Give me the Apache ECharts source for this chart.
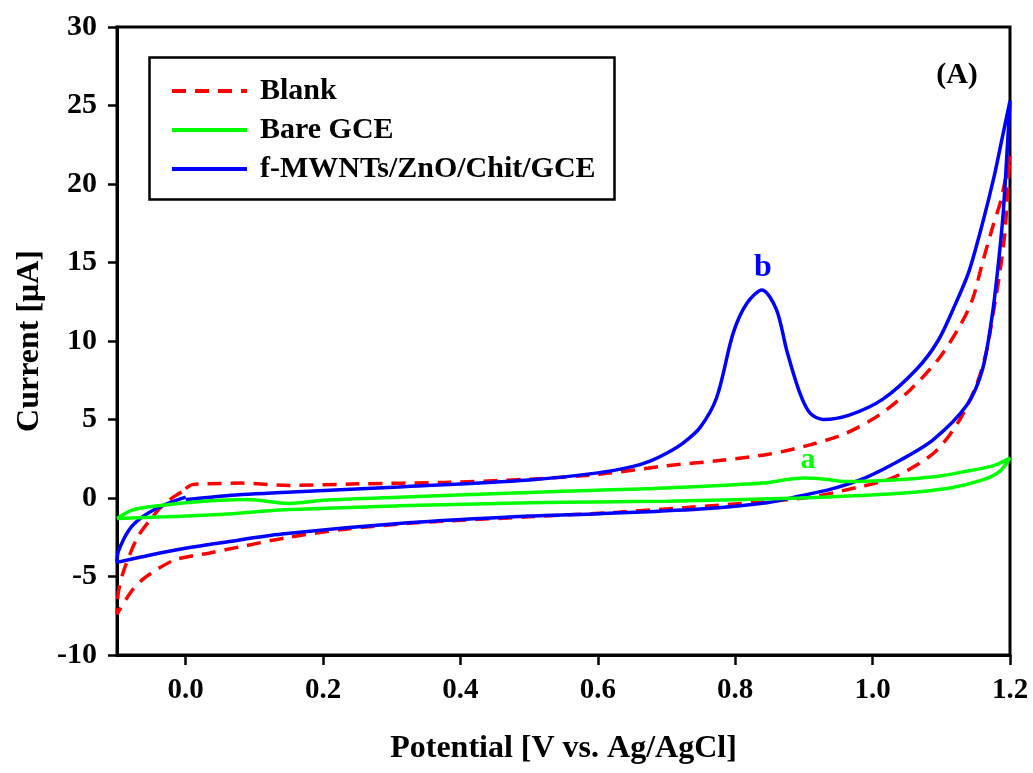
<!DOCTYPE html>
<html>
<head>
<meta charset="utf-8">
<script src="https://cdn.jsdelivr.net/npm/echarts@6/dist/echarts.min.js"></script>
<style>
html,body{margin:0;padding:0;background:#fff;}
#chart{width:1033px;height:773px;}
</style>
</head>
<body>
<div id="chart"></div>
<script>
// ---- data (potential V, current µA), traced along the CV loop ----
const blankCV = [
  [0.0,0.6],[0.01,0.85],[0.03,0.9],[0.08,0.95],[0.15,0.8],[0.25,0.9],[0.38,1.0],[0.5,1.2],
  [0.6,1.5],[0.7,2.05],[0.78,2.4],[0.85,2.8],[0.91,3.4],[0.96,4.1],[1.01,5.3],[1.055,6.9],
  [1.095,8.8],[1.125,10.8],[1.145,12.6],[1.16,15.0],[1.175,17.3],[1.187,19.0],[1.2,21.8],
  [1.197,20.0],[1.193,17.1],[1.185,14.3],[1.176,11.9],[1.166,9.4],[1.152,7.3],[1.127,5.0],
  [1.09,2.9],[1.03,1.3],[0.98,0.7],[0.91,0.06],[0.84,-0.25],[0.73,-0.6],[0.63,-0.9],[0.5,-1.2],
  [0.33,-1.6],[0.23,-2.0],[0.15,-2.5],[0.08,-3.1],[0.035,-3.5],[-0.013,-3.9],[-0.04,-4.5],
  [-0.063,-5.2],[-0.08,-6.0],[-0.1,-7.4],
  [-0.098,-6.0],[-0.09,-4.6],[-0.07,-2.5],[-0.05,-1.3],[-0.033,-0.45],[-0.013,0.2],[0.0,0.5]
];
const bareCV = [
  [-0.1,-1.3],[-0.08,-0.8],[-0.06,-0.6],[-0.03,-0.45],[0.0,-0.3],[0.05,-0.15],[0.09,-0.1],
  [0.15,-0.35],[0.2,-0.15],[0.31,0.05],[0.5,0.35],[0.6,0.5],[0.68,0.6],[0.8,0.85],[0.84,0.95],
  [0.9,1.27],[0.93,1.2],[0.96,1.05],[1.03,1.15],[1.09,1.35],[1.13,1.65],[1.175,2.05],[1.2,2.55],
  [1.185,1.7],[1.16,1.15],[1.113,0.64],[1.04,0.3],[0.894,0.0],[0.7,-0.2],[0.6,-0.25],[0.5,-0.3],
  [0.31,-0.5],[0.137,-0.76],[0.068,-1.0],[-0.028,-1.2],[-0.1,-1.3]
];
const modifiedCV = [
  [0.0,-0.1],[0.06,0.15],[0.14,0.35],[0.31,0.7],[0.5,1.15],[0.6,1.6],[0.65,2.0],[0.676,2.35],
  [0.70,2.85],[0.724,3.5],[0.749,4.5],[0.773,6.4],[0.797,10.5],[0.817,12.4],[0.839,13.25],
  [0.86,12.0],[0.875,9.4],[0.894,6.7],[0.909,5.4],[0.928,5.0],[0.967,5.3],[1.015,6.3],
  [1.064,8.2],[1.095,10.0],[1.12,12.3],[1.14,14.4],[1.16,17.5],[1.177,20.5],[1.188,22.8],[1.2,25.3],
  [1.197,23.0],[1.19,18.1],[1.182,14.5],[1.174,11.6],[1.16,8.2],[1.137,5.9],[1.088,3.7],
  [1.04,2.4],[0.99,1.3],[0.942,0.6],[0.894,0.13],[0.846,-0.3],[0.749,-0.7],[0.603,-1.0],
  [0.5,-1.15],[0.319,-1.6],[0.14,-2.3],[0.06,-2.8],[-0.013,-3.3],[-0.1,-4.1],
  [-0.098,-3.4],[-0.082,-2.0],[-0.063,-1.2],[-0.038,-0.57],[-0.013,-0.13],[0.0,0.06]
];
const seriesNames = ['Blank','Bare GCE','f-MWNTs/ZnO/Chit/GCE'];
const xTicks = [0.0,0.2,0.4,0.6,0.8,1.0,1.2];
const yTicks = [-10,-5,0,5,10,15,20,25,30];

const FONT = '"Liberation Serif","Times New Roman",serif';
const chart = echarts.init(document.getElementById('chart'));
chart.setOption({
  animation:false,
  backgroundColor:'#fff',
  grid:{left:117,right:23,top:27,bottom:118,show:true,borderColor:'#000',borderWidth:3,backgroundColor:'transparent'},
  xAxis:{
    type:'value',min:-0.1,max:1.2,
    name:'Potential [V vs. Ag/AgCl]',nameLocation:'middle',nameGap:78,
    nameTextStyle:{fontFamily:FONT,fontWeight:'bold',fontSize:32,color:'#000'},
    axisLine:{onZero:false,lineStyle:{color:'#000',width:3}},
    axisTick:{show:true,length:10,lineStyle:{color:'#000',width:2.5},customValues:xTicks},
    axisLabel:{customValues:xTicks,margin:21,fontFamily:FONT,fontWeight:'bold',fontSize:29,color:'#000',
      formatter:v=>v.toFixed(1)},
    splitLine:{show:false}
  },
  yAxis:{
    type:'value',min:yTicks[0],max:yTicks[yTicks.length-1],interval:5,
    name:'Current [μA]',nameLocation:'middle',nameGap:71,
    nameTextStyle:{fontFamily:FONT,fontWeight:'bold',fontSize:32,color:'#000'},
    axisLine:{onZero:false,lineStyle:{color:'#000',width:3}},
    axisTick:{show:true,length:9,lineStyle:{color:'#000',width:2.5}},
    axisLabel:{margin:20,fontFamily:FONT,fontWeight:'bold',fontSize:30,color:'#000'},
    splitLine:{show:false}
  },
  legend:{
    orient:'vertical',left:165,top:71,itemWidth:75,itemHeight:14,itemGap:9,
    data:seriesNames,
    itemStyle:{opacity:0},
    lineStyle:{width:4},
    textStyle:{fontFamily:FONT,fontWeight:'bold',fontSize:30,color:'#000',lineHeight:30,padding:[0,0,0,8]}
  },
  series:[
    {name:seriesNames[0],type:'line',data:blankCV,smooth:0.3,showSymbol:false,symbol:'none',z:2,
     lineStyle:{color:'#ff0000',width:3.5,type:[14,9]},itemStyle:{color:'#ff0000'}},
    {name:seriesNames[1],type:'line',data:bareCV,smooth:0.3,showSymbol:false,symbol:'none',z:4,
     lineStyle:{color:'#00ff00',width:3.5},itemStyle:{color:'#00ff00'}},
    {name:seriesNames[2],type:'line',data:modifiedCV,smooth:0.3,showSymbol:false,symbol:'none',z:3,
     lineStyle:{color:'#0000ff',width:3.5},itemStyle:{color:'#0000ff'}}
  ],
  graphic:[
    {type:'rect',left:147,top:55,shape:{width:465,height:142},style:{fill:'none',stroke:'#000',lineWidth:2.5},z:10},
    {type:'text',x:957,y:75,style:{text:'(A)',font:'bold 30px '+FONT,fill:'#000',align:'center',verticalAlign:'middle'},z:10},
    {type:'text',x:763,y:268,style:{text:'b',font:'bold 32px '+FONT,fill:'#0000ff',align:'center',verticalAlign:'middle'},z:10},
    {type:'text',x:808,y:460,style:{text:'a',font:'bold 30px '+FONT,fill:'#00ff00',align:'center',verticalAlign:'middle'},z:10}
  ]
});
</script>
</body>
</html>
